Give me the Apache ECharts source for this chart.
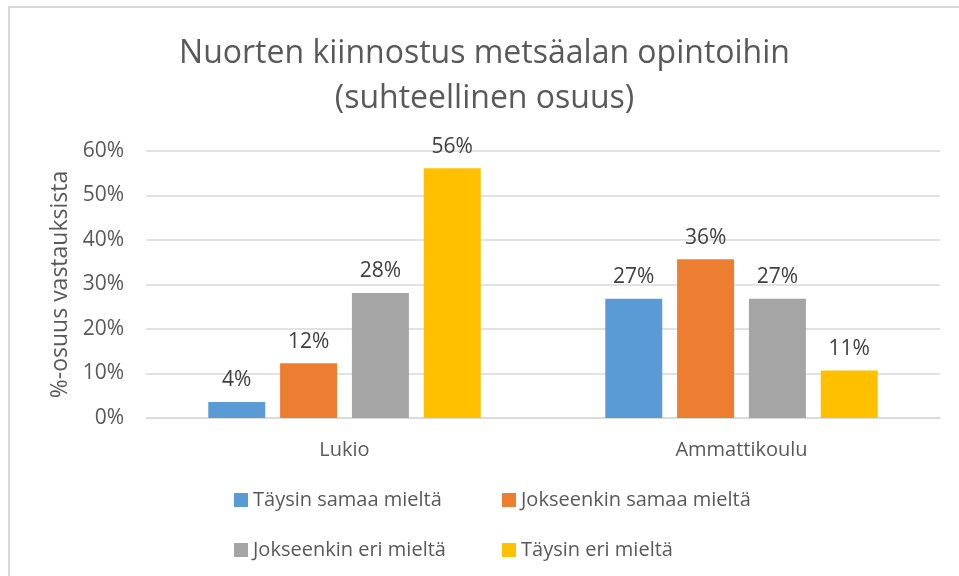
<!DOCTYPE html>
<html>
<head>
<meta charset="utf-8">
<script src="https://cdn.jsdelivr.net/npm/echarts@6/dist/echarts.min.js"></script>
<style>
  html, body { margin: 0; padding: 0; background: #fff; }
  #chart {
    position: absolute; left: 8px; top: 6px; width: 951px; height: 570px;
    border-top: 2px solid #d9d9d9; border-left: 2px solid #d9d9d9; box-sizing: border-box;
  }
</style>
</head>
<body>
<div id="chart"></div>
<script>
const categories = ['Lukio', 'Ammattikoulu']
const seriesNames = ['Täysin samaa mieltä', 'Jokseenkin samaa mieltä', 'Jokseenkin eri mieltä', 'Täysin eri mieltä']
const taysinSamaa = [3.6, 26.8]
const jokseenkinSamaa = [12.3, 35.7]
const jokseenkinEri = [28.1, 26.8]
const taysinEri = [56.1, 10.7]
const yTicks = [0, 10, 20, 30, 40, 50, 60]

const colors = ['#5b9bd5', '#ed7d31', '#a5a5a5', '#ffc000']
const font = 'Open Sans'
const textColor = '#595959'

const chart = echarts.init(document.getElementById('chart'))

const makeSeries = (name, data, i) => ({
  name,
  type: 'bar',
  data,
  barWidth: 57,
  barGap: '26%',
  itemStyle: { color: colors[i] },
  label: {
    show: true,
    position: 'top',
    distance: 11,
    color: '#404040',
    fontFamily: font,
    fontSize: 21,
    formatter: ({ value }) => Math.round(value) + '%',
  },
})

// one legend per item so the two columns line up like the original
const legendPos = [[219, 477], [487, 477], [219, 527], [487, 527]]
const legends = seriesNames.map((name, i) => ({
  data: [name],
  left: legendPos[i][0],
  top: legendPos[i][1],
  itemWidth: 14,
  itemHeight: 14,
  icon: 'rect',
  textStyle: { color: textColor, fontFamily: font, fontSize: 20, padding: [0, 0, 0, 0] },
}))

chart.setOption({
  animation: false,
  title: {
    text: 'Nuorten kiinnostus metsäalan opintoihin\n(suhteellinen osuus)',
    left: 'center',
    top: 18,
    textStyle: { color: textColor, fontFamily: font, fontWeight: 'normal', fontSize: 32, lineHeight: 45 },
  },
  legend: legends,
  grid: { left: 136, right: 19, top: 143, bottom: 158 },
  xAxis: {
    type: 'category',
    data: categories,
    axisTick: { show: false },
    axisLine: { lineStyle: { color: '#d9d9d9', width: 1.5 } },
    axisLabel: { color: textColor, fontFamily: font, fontSize: 20, margin: 22 },
  },
  yAxis: {
    type: 'value',
    min: yTicks[0],
    max: yTicks[yTicks.length - 1],
    interval: 10,
    name: '%-osuus vastauksista',
    nameLocation: 'middle',
    nameGap: 65,
    nameTextStyle: { color: textColor, fontFamily: font, fontSize: 23 },
    axisLabel: { color: textColor, fontFamily: font, fontSize: 21, margin: 22, formatter: v => v + '%' },
    splitLine: { lineStyle: { color: '#d9d9d9', width: 1.5 } },
  },
  series: [
    makeSeries(seriesNames[0], taysinSamaa, 0),
    makeSeries(seriesNames[1], jokseenkinSamaa, 1),
    makeSeries(seriesNames[2], jokseenkinEri, 2),
    makeSeries(seriesNames[3], taysinEri, 3),
  ],
})
</script>
</body>
</html>
